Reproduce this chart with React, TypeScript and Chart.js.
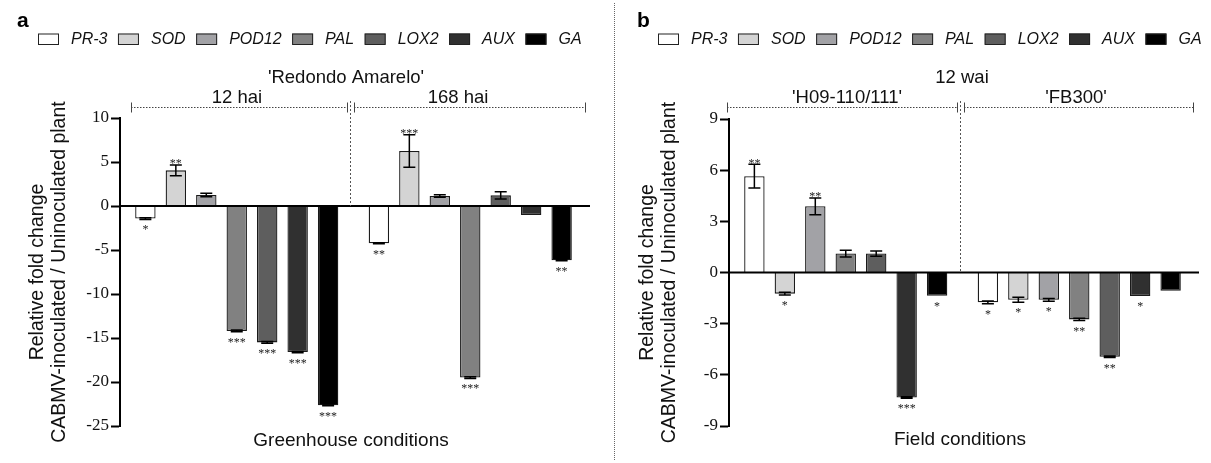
import React, { useEffect, useRef } from 'react';
import { Chart, registerables } from 'chart.js';

Chart.register(...registerables);

// ---------- DATA ----------
const genes = ['PR-3', 'SOD', 'POD12', 'PAL', 'LOX2', 'AUX', 'GA'];
const geneColors = ['#ffffff', '#d4d4d4', '#a2a2a6', '#818181', '#5e5e5e', '#303030', '#000000'];

// Panel a – greenhouse, 'Redondo Amarelo'
const groupsA = ['12 hai', '168 hai'];
const a12Values = [-1.43, 4.05, 1.25, -14.2, -15.5, -16.6, -22.65];
const a12Errors = [0.1, 0.62, 0.2, 0.1, 0.1, 0.08, 0.05];
const a12Stars = ['*', '**', '', '***', '***', '***', '***'];
const a168Values = [-4.24, 6.25, 1.14, -19.5, 1.21, -1.02, -6.17];
const a168Errors = [0.05, 1.84, 0.15, 0.1, 0.42, 0, 0.05];
const a168Stars = ['**', '***', '', '***', '', '', '**'];
const ticksA = [10, 5, 0, -5, -10, -15, -20, -25];

// Panel b – field, 12 wai
const groupsB = ["'H09-110/111'", "'FB300'"];
const bH09Values = [5.65, -1.24, 3.88, 1.11, 1.11, -7.33, -1.36];
const bH09Errors = [0.7, 0.08, 0.49, 0.2, 0.15, 0.05, 0];
const bH09Stars = ['**', '*', '**', '', '', '***', '*'];
const bFBValues = [-1.75, -1.6, -1.6, -2.75, -4.94, -1.38, -1.07];
const bFBErrors = [0.08, 0.15, 0.08, 0.07, 0.05, 0, 0];
const bFBStars = ['*', '*', '*', '**', '**', '*', ''];
const ticksB = [9, 6, 3, 0, -3, -6, -9];

// ---------- STYLE ----------
const W = 1211;
const H = 463;
const SANS = "'Liberation Sans', Arial, sans-serif";
const SERIF = "'Liberation Serif', 'Times New Roman', serif";

type Panel = {
  letter: string;
  letterX: number;
  legendX: number;
  groups: string[];
  values: number[][];
  errors: number[][];
  stars: string[][];
  ticks: number[];
  padLeft: number;
  axisWidth: number;
  padRight: number;
  padTop: number;
  padBottom: number;
  titleX: number[];
  header: string;
  headerX: number;
  groupLabelX: number[];
  brackets: number[][];
  dividerX: number;
  zeroRight: number;
  xTitle: string;
  xTitleX: number;
  xTitleY: number;
};

const panels: Panel[] = [
  {
    letter: 'a', letterX: 17, legendX: 38,
    groups: groupsA,
    values: [a12Values, a168Values],
    errors: [a12Errors, a168Errors],
    stars: [a12Stars, a168Stars],
    ticks: ticksA,
    padLeft: 0, axisWidth: 120, padRight: W - 587, padTop: 118, padBottom: H - 426,
    titleX: [38, 60],
    header: "'Redondo Amarelo'", headerX: 346,
    groupLabelX: [237, 458],
    brackets: [[131, 347], [354, 585]],
    dividerX: 350,
    zeroRight: 590,
    xTitle: 'Greenhouse conditions', xTitleX: 351, xTitleY: 441,
  },
  {
    letter: 'b', letterX: 637, legendX: 658,
    groups: groupsB,
    values: [bH09Values, bFBValues],
    errors: [bH09Errors, bFBErrors],
    stars: [bH09Stars, bFBStars],
    ticks: ticksB,
    padLeft: 617, axisWidth: 112, padRight: W - 1196, padTop: 119, padBottom: H - 426,
    titleX: [648, 670],
    header: '12 wai', headerX: 962,
    groupLabelX: [847, 1076],
    brackets: [[727, 957], [964, 1193]],
    dividerX: 960,
    zeroRight: 1199,
    xTitle: 'Field conditions', xTitleX: 960, xTitleY: 440,
  },
];

function makeDecor(p: Panel) {
  return {
    id: 'decor_' + p.letter,
    afterDatasetsDraw(chart: any) {
      const ctx: CanvasRenderingContext2D = chart.ctx;
      const ys = chart.scales.y;
      const area = chart.chartArea;
      const y0 = ys.getPixelForValue(0);
      ctx.save();

      // zero line
      ctx.strokeStyle = '#000';
      ctx.lineWidth = 2;
      ctx.beginPath();
      ctx.moveTo(area.left, y0);
      ctx.lineTo(p.zeroRight, y0);
      ctx.stroke();

      // error bars + stars
      genes.forEach((_, i) => {
        const meta = chart.getDatasetMeta(i);
        for (let g = 0; g < 2; g++) {
          const bar = meta.data[g];
          const v = p.values[g][i];
          const e = p.errors[g][i];
          const x = bar.x;
          const yHi = ys.getPixelForValue(v + e);
          const yLo = ys.getPixelForValue(v - e);
          if (e > 0) {
            ctx.strokeStyle = '#000';
            ctx.lineWidth = 1.5;
            ctx.setLineDash([]);
            ctx.beginPath();
            ctx.moveTo(x, yHi);
            ctx.lineTo(x, yLo);
            ctx.moveTo(x - 6, yHi);
            ctx.lineTo(x + 6, yHi);
            ctx.moveTo(x - 6, yLo);
            ctx.lineTo(x + 6, yLo);
            ctx.stroke();
          }
          const s = p.stars[g][i];
          if (s) {
            ctx.fillStyle = '#222';
            ctx.font = `12px ${SERIF}`;
            ctx.textAlign = 'center';
            ctx.textBaseline = 'alphabetic';
            if (v >= 0) {
              ctx.fillText(s, x, Math.min(yHi, ys.getPixelForValue(v)) + 2.5);
            } else {
              ctx.fillText(s, x, Math.max(yLo, ys.getPixelForValue(v)) + 14);
            }
          }
        }
      });

      // divider (dashed vertical)
      ctx.strokeStyle = '#555';
      ctx.lineWidth = 1;
      ctx.setLineDash([2, 2]);
      ctx.beginPath();
      ctx.moveTo(p.dividerX + 0.5, 101);
      ctx.lineTo(p.dividerX + 0.5, y0);
      ctx.stroke();

      // brackets
      const by = 107.5;
      p.brackets.forEach(([x1, x2]) => {
        ctx.setLineDash([1.5, 1.5]);
        ctx.strokeStyle = '#444';
        ctx.beginPath();
        ctx.moveTo(x1, by);
        ctx.lineTo(x2, by);
        ctx.stroke();
        ctx.setLineDash([]);
        ctx.beginPath();
        ctx.moveTo(x1 + 0.5, by - 5);
        ctx.lineTo(x1 + 0.5, by + 5);
        ctx.moveTo(x2 + 0.5, by - 5);
        ctx.lineTo(x2 + 0.5, by + 5);
        ctx.stroke();
      });
      ctx.setLineDash([]);

      // texts
      ctx.fillStyle = '#111';
      ctx.textAlign = 'center';
      ctx.textBaseline = 'middle';
      ctx.font = `18.5px ${SANS}`;
      ctx.fillText(p.header, p.headerX, 78);
      p.groups.forEach((gname, g) => {
        ctx.fillText(gname, p.groupLabelX[g], 98);
      });
      ctx.font = `19px ${SANS}`;
      ctx.fillText(p.xTitle, p.xTitleX, p.xTitleY);

      // y title
      const yc = (area.top + area.bottom) / 2;
      ctx.font = `19.5px ${SANS}`;
      const lines = ['Relative fold change', 'CABMV-inoculated / Uninoculated plant'];
      lines.forEach((ln, k) => {
        ctx.save();
        ctx.translate(p.titleX[k], yc);
        ctx.rotate(-Math.PI / 2);
        ctx.fillText(ln, 0, 0);
        ctx.restore();
      });

      // panel letter
      ctx.font = `bold 21px ${SANS}`;
      ctx.textAlign = 'left';
      ctx.textBaseline = 'alphabetic';
      ctx.fillStyle = '#000';
      ctx.fillText(p.letter, p.letterX, 27);

      // legend
      let lx = p.legendX;
      ctx.font = `italic 16px ${SANS}`;
      ctx.textBaseline = 'middle';
      chart.data.datasets.forEach((ds: any) => {
        ctx.fillStyle = ds.backgroundColor;
        ctx.fillRect(lx, 33.5, 21, 11);
        ctx.strokeStyle = '#222';
        ctx.lineWidth = 1;
        ctx.strokeRect(lx + 0.5, 34, 20, 10.5);
        ctx.fillStyle = '#111';
        ctx.fillText(ds.label, lx + 33, 40);
        lx += 33 + ctx.measureText(ds.label).width + 10.5;
      });

      ctx.restore();
    },
  };
}

function PanelChart({ p }: { p: Panel }) {
  const ref = useRef<HTMLCanvasElement>(null);
  useEffect(() => {
    if (!ref.current) return;
    const chart = new Chart(ref.current, {
      type: 'bar',
      data: {
        labels: p.groups,
        datasets: genes.map((g, i) => ({
          label: g,
          data: [p.values[0][i], p.values[1][i]],
          backgroundColor: geneColors[i],
          borderColor: '#1a1a1a',
          borderWidth: 1.3,
          categoryPercentage: 0.913,
          barPercentage: 0.67,
        })),
      },
      options: {
        animation: false,
        responsive: false,
        devicePixelRatio: 1,
        events: [],
        layout: {
          padding: { left: p.padLeft, right: p.padRight, top: p.padTop, bottom: p.padBottom },
        },
        plugins: {
          legend: { display: false },
          tooltip: { enabled: false },
        },
        scales: {
          x: { display: false },
          y: {
            min: Math.min(...p.ticks),
            max: Math.max(...p.ticks),
            afterBuildTicks: (axis: any) => {
              axis.ticks = p.ticks.map((v) => ({ value: v }));
            },
            afterFit: (axis: any) => {
              axis.width = p.axisWidth;
            },
            grid: {
              drawOnChartArea: false,
              drawTicks: true,
              tickLength: 9,
              tickWidth: 2,
              tickColor: '#000',
            },
            border: { display: true, color: '#000', width: 2 },
            ticks: {
              color: '#111',
              font: { family: SERIF, size: 17 },
              padding: 2,
              autoSkip: false,
            },
          },
        },
      },
      plugins: [makeDecor(p)],
    } as any);
    return () => chart.destroy();
  }, [p]);
  return (
    <canvas
      ref={ref}
      width={W}
      height={H}
      style={{ position: 'absolute', left: 0, top: 0, width: W, height: H }}
    />
  );
}

export default function App() {
  return (
    <div style={{ position: 'absolute', left: 0, top: 0, width: W, height: H, background: '#fff' }}>
      <div
        style={{
          position: 'absolute',
          left: 614,
          top: 3,
          height: 457,
          width: 0,
          borderLeft: '1px dotted #666',
        }}
      />
      <PanelChart p={panels[0]} />
      <PanelChart p={panels[1]} />
    </div>
  );
}
